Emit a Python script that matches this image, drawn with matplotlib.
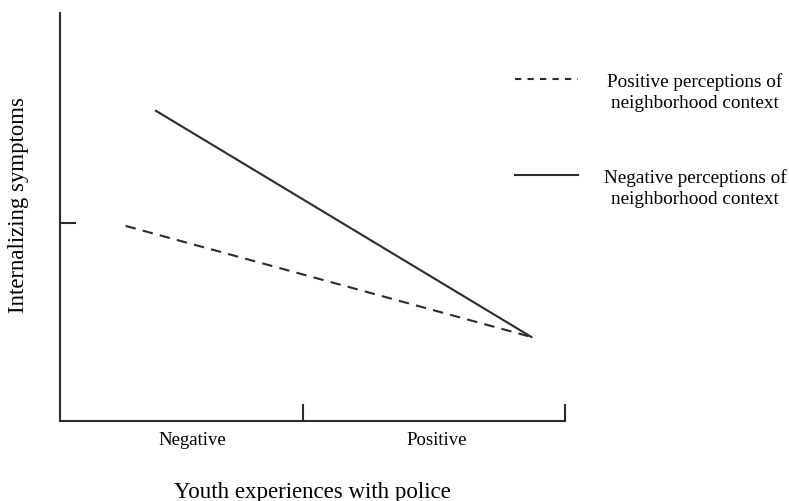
import matplotlib
matplotlib.use("Agg")
import matplotlib.pyplot as plt
from matplotlib.lines import Line2D

# police experience levels (x) and predicted internalizing symptoms (y)
positive_x = [0.27, 1.94]
positive_context = [0.985, 0.424]
negative_x = [0.395, 1.94]
negative_context = [1.566, 0.424]

group_labels = ["Negative", "Positive"]
group_pos = [0.543, 1.551]
legend_labels = ["Positive perceptions of\nneighborhood context",
                 "Negative perceptions of\nneighborhood context"]

plt.rcParams['font.family'] = ['Liberation Serif', 'DejaVu Serif']
ink = '#2b2b2b'
W, H = 789, 502

fig = plt.figure(figsize=(W / 100, H / 100), dpi=100)
ax = fig.add_axes([60 / W, 80 / H, 505 / W, 408 / H])

pos_style = (0, (5, 3.5))
ax.plot(positive_x, positive_context, color=ink, lw=1.5, ls=pos_style)
ax.plot(negative_x, negative_context, color=ink, lw=1.5)

ax.set_xlim(0, 2.078)
ax.set_ylim(0, 2.06)
for s in ['top', 'right']:
    ax.spines[s].set_visible(False)
for s in ['left', 'bottom']:
    ax.spines[s].set_color(ink)
    ax.spines[s].set_linewidth(1.5)

ax.set_xticks([1, 2.078])
ax.set_xticklabels([])
ax.tick_params(axis='x', which='major', direction='in', length=12.5, width=1.5, color=ink)
ax.set_xticks(group_pos, minor=True)
ax.set_xticklabels(group_labels, minor=True, fontsize=13.5)
ax.tick_params(axis='x', which='minor', length=0, pad=7)

ax.set_yticks([1])
ax.set_yticklabels([])
ax.tick_params(axis='y', direction='in', length=11.5, width=1.5, color=ink)

ax.set_xlabel("Youth experiences with police", fontsize=16.5)
ax.xaxis.set_label_coords(0.499, -0.1716)
ax.xaxis.label.set_va('center')
ax.set_ylabel("Internalizing symptoms", fontsize=16.4)
ax.yaxis.set_label_coords(-0.083, 0.532)
ax.yaxis.label.set_va('center')

# legend drawn by hand: short line sample next to centred two-line text
legend_styles = [(0, (3, 3)), '-']
for i, (lab, st) in enumerate(zip(legend_labels, legend_styles)):
    y_line = 1 - (80 + 96 * i) / H
    y_text = 1 - (92.5 + 96.5 * i) / H
    fig.add_artist(Line2D([515 / W, 578 / W], [y_line, y_line], color=ink,
                          lw=1.5, ls=st, transform=fig.transFigure))
    fig.text(695 / W, y_text, lab, ha='center', va='center', fontsize=13.8,
             linespacing=1.3, multialignment='center')

fig.savefig("out.png", dpi=100)
